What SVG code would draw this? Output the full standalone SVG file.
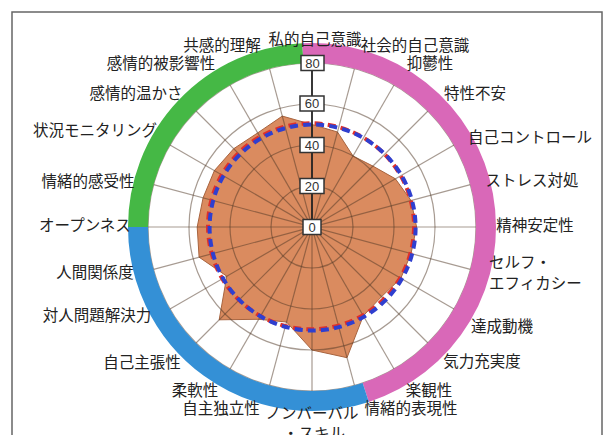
<svg xmlns="http://www.w3.org/2000/svg" width="611" height="435" viewBox="0 0 611 435">
<style>
.lbl{font-family:"Noto Sans CJK JP","Noto Sans",sans-serif;font-size:15.5px;fill:#222;text-anchor:middle}
.st{text-anchor:start}
.grid{fill:none;stroke:#503726;stroke-opacity:0.5;stroke-width:1.2}
.ring{fill:none;stroke-width:20}
.vbox{fill:#fff;stroke:#333;stroke-width:1.5}
.vtxt{font-family:"Liberation Sans",Arial,sans-serif;font-size:13px;fill:#333;text-anchor:middle}
.dash{fill:none;stroke-width:4;stroke-dasharray:8 5.2}
</style>
<rect x="0" y="0" width="611" height="435" fill="#fff"/>
<rect x="12" y="12" width="590" height="440" fill="none" stroke="#666" stroke-width="1.5"/>
<g id="data">
<polygon points="312,124.5 337.5,132 353,156 372.9,166.1 395.4,178.8 411,200.5 416.6,227 411,253.5 400.8,278.3 381.6,296.6 363.3,315.8 347,357.7 312,350 286.5,322 258.7,319.3 219.2,319.8 226.8,276.2 199.1,257.2 197.2,227 203.1,197.8 214.4,170.6 233.7,148.7 257.7,132.9 282.3,116.1" fill="#da8b5f" stroke="#a8643f" stroke-width="1"/>
</g>
<g id="grid">
<circle class="grid" cx="312" cy="227" r="41"/>
<circle class="grid" cx="312" cy="227" r="82"/>
<circle class="grid" cx="312" cy="227" r="123"/>
<circle class="grid" cx="312" cy="227" r="164"/>
<line class="grid" x1="354.44" y1="68.59" x2="269.56" y2="385.41"/>
<line class="grid" x1="394" y1="84.97" x2="230" y2="369.03"/>
<line class="grid" x1="427.96" y1="111.04" x2="196.04" y2="342.96"/>
<line class="grid" x1="454.02" y1="145" x2="169.98" y2="309"/>
<line class="grid" x1="470.41" y1="184.56" x2="153.59" y2="269.44"/>
<line class="grid" x1="476" y1="227" x2="148" y2="227"/>
<line class="grid" x1="470.41" y1="269.44" x2="153.59" y2="184.56"/>
<line class="grid" x1="454.02" y1="309" x2="169.98" y2="145"/>
<line class="grid" x1="427.96" y1="342.96" x2="196.04" y2="111.04"/>
<line class="grid" x1="394" y1="369.03" x2="230" y2="84.97"/>
<line class="grid" x1="354.44" y1="385.41" x2="269.56" y2="68.59"/>
<line class="grid" x1="312" y1="227" x2="312" y2="391"/>
</g>
<g id="average">
<circle class="dash" cx="311" cy="226.3" r="103" stroke="#e0302a"/>
<circle class="dash" cx="312.6" cy="227.5" r="103" stroke="#2f3fcf"/>
</g>
<g id="groups">
<path class="ring" stroke="#45b845" d="M138,227 A174,174 0 0 1 302.89,53.24"/>
<path class="ring" stroke="#d968b8" d="M302.89,53.24 A174,174 0 0 1 365.77,392.48"/>
<path class="ring" stroke="#3490d6" d="M365.77,392.48 A174,174 0 0 1 138,227"/>
</g>
<g id="axis">
<line x1="312" y1="227" x2="312" y2="63" stroke="#222" stroke-width="1.8"/>
<rect class="vbox" x="303" y="219.5" width="18" height="15"/>
<text class="vtxt" x="312" y="231.7">0</text>
<rect class="vbox" x="300" y="178.5" width="24" height="15"/>
<text class="vtxt" x="312" y="190.7">20</text>
<rect class="vbox" x="300" y="137.5" width="24" height="15"/>
<text class="vtxt" x="312" y="149.7">40</text>
<rect class="vbox" x="300" y="96" width="24" height="15"/>
<text class="vtxt" x="312" y="108.2">60</text>
<rect class="vbox" x="301" y="55.5" width="23" height="15"/>
<text class="vtxt" x="312.5" y="67.7">80</text>
</g>
<g id="labels">
<g id="l0"><text class="lbl" x="315" y="44.5">私的自己意識</text></g>
<g id="l1"><text class="lbl" x="415" y="50.5">社会的自己意識</text></g>
<g id="l2"><text class="lbl" x="430" y="68.5">抑鬱性</text></g>
<g id="l3"><text class="lbl" x="475" y="98.5">特性不安</text></g>
<g id="l4"><text class="lbl" x="530" y="142.5">自己コントロール</text></g>
<g id="l5"><text class="lbl" x="532" y="185.5">ストレス対処</text></g>
<g id="l6"><text class="lbl" x="535" y="230.5">精神安定性</text></g>
<g id="l7"><text class="lbl st" x="489" y="267.5">セルフ・</text><text class="lbl st" x="489" y="288.5">エフィカシー</text></g>
<g id="l8"><text class="lbl" x="502" y="331.5">達成動機</text></g>
<g id="l9"><text class="lbl" x="482" y="366.5">気力充実度</text></g>
<g id="l10"><text class="lbl" x="429" y="395.5">楽観性</text></g>
<g id="l11"><text class="lbl" x="411" y="413.5">情緒的表現性</text></g>
<g id="l12"><text class="lbl" x="312" y="418.5">ノンバーバル</text><text class="lbl" x="314" y="438.5">・スキル</text></g>
<g id="l13"><text class="lbl" x="221" y="413.5">自主独立性</text></g>
<g id="l14"><text class="lbl" x="195" y="395.5">柔軟性</text></g>
<g id="l15"><text class="lbl" x="142" y="367.5">自己主張性</text></g>
<g id="l16"><text class="lbl" x="97" y="320.5">対人問題解決力</text></g>
<g id="l17"><text class="lbl" x="95" y="277.5">人間関係度</text></g>
<g id="l18"><text class="lbl" x="85" y="230.5">オープンネス</text></g>
<g id="l19"><text class="lbl" x="88" y="186.5">情緒的感受性</text></g>
<g id="l20"><text class="lbl" x="95" y="135.5">状況モニタリング</text></g>
<g id="l21"><text class="lbl" x="136" y="98.5">感情的温かさ</text></g>
<g id="l22"><text class="lbl" x="161" y="68.5">感情的被影響性</text></g>
<g id="l23"><text class="lbl" x="222" y="50.5">共感的理解</text></g>
</g>
</svg>
